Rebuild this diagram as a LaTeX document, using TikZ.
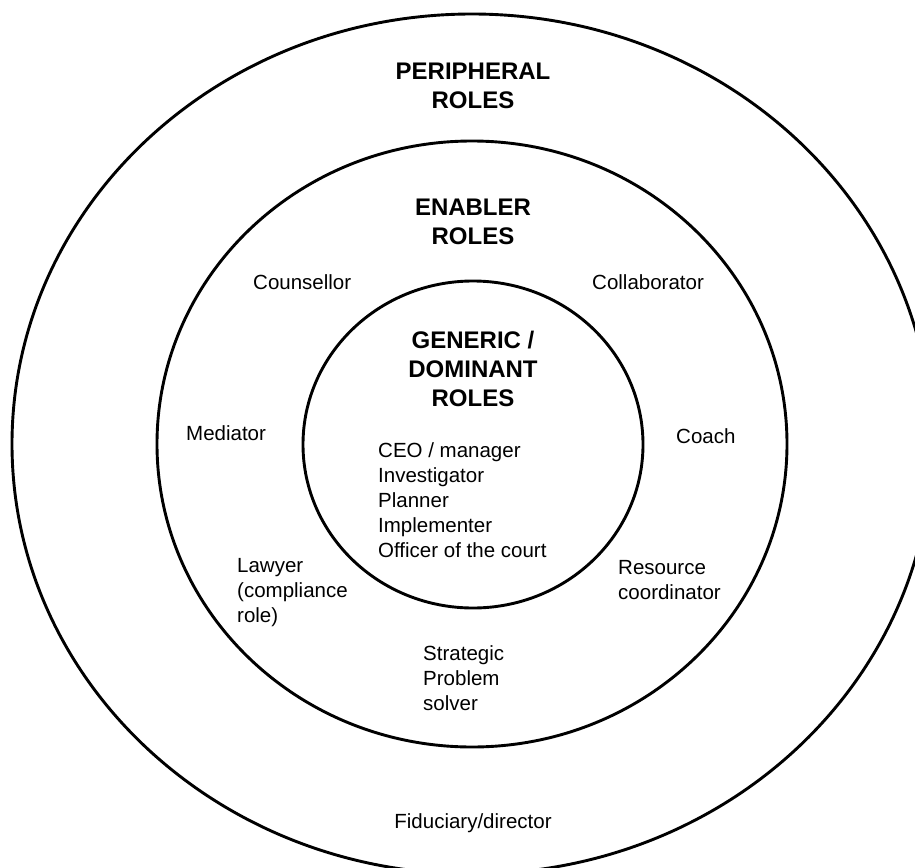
\documentclass[tikz,border=0pt]{standalone}
\usepackage{fontspec}
\setmainfont{Liberation Sans}
\begin{document}
\begin{tikzpicture}[x=1pt,y=-1pt,
  ring/.style={draw=black, line width=2.9pt},
  heading/.style={font=\fontsize{24}{29}\selectfont\bfseries, align=center, anchor=base, inner sep=0pt},
  role/.style={font=\fontsize{20.5}{25}\selectfont, align=left, anchor=base west, inner sep=0pt}]
\useasboundingbox (0,0) rectangle (915,867);

% three nested rings
\begin{scope}
  \clip (0,0) rectangle (915,867);
  \draw[ring] (472,444) ellipse [x radius=460pt, y radius=430pt];
\end{scope}
\draw[ring] (472,444) ellipse [x radius=315pt, y radius=303pt];
\draw[ring] (473,444.5) ellipse [x radius=170pt, y radius=163.5pt];

% ring headings (anchored on the baseline of the last line)
\node[heading] (peri) at (473,108) {PERIPHERAL\\ROLES};
\node[heading] (enab) at (473,244) {ENABLER\\ROLES};
\node[heading] (gen) at (473,406) {GENERIC /\\DOMINANT\\ROLES};

% enabler roles
\node[role] (couns) at (253,289) {Counsellor};
\node[role] (collab) at (592,289) {Collaborator};
\node[role] (med) at (186,440) {Mediator};
\node[role] (coach) at (676,443) {Coach};
\node[role] (law) at (237,622) {Lawyer\\(compliance\\role)};
\node[role] (res) at (618,599) {Resource\\coordinator};
\node[role] (strat) at (423,710) {Strategic\\Problem\\solver};

% dominant roles
\node[role] (dom) at (378,557) {CEO / manager\\Investigator\\Planner\\Implementer\\Officer of the court};

% peripheral role
\node[role, anchor=base] (fid) at (473,828) {Fiduciary/director};
\end{tikzpicture}
\end{document}
